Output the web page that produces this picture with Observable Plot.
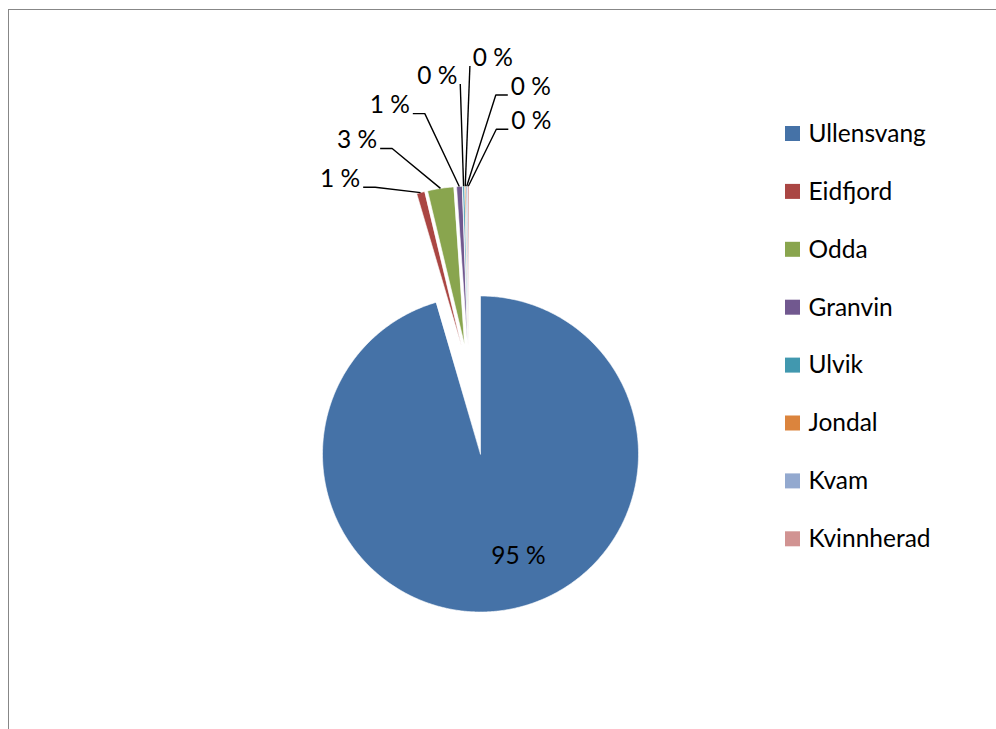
<!DOCTYPE html>
<html>
<head>
<meta charset="utf-8">
<script src="https://cdn.jsdelivr.net/npm/d3@7"></script>
<script src="https://cdn.jsdelivr.net/npm/@observablehq/plot@0.6"></script>
<style>
  html, body { margin: 0; padding: 0; background: #fff; overflow: hidden; }
  #wrap { position: relative; width: 996px; height: 729px; overflow: hidden; }
  #frame { position: absolute; left: 8px; top: 9px; width: 1010px; height: 740px;
           border: 1.5px solid #878787; box-sizing: border-box; pointer-events: none; }
</style>
</head>
<body>
<div id="wrap"><div id="chart"></div><div id="frame"></div></div>
<script>
// ---- data ----
const municipalities = ["Ullensvang", "Eidfjord", "Odda", "Granvin", "Ulvik", "Jondal", "Kvam", "Kvinnherad"];
const shares = [95.45, 0.8, 2.65, 0.55, 0.18, 0.1, 0.15, 0.12];   // percent
const palette = ["#4572A7", "#AA4643", "#89A54E", "#71588F", "#4198AF", "#DB843D", "#93A9CF", "#D19392"];

// ---- layout ----
const W = 996, H = 729;
const CX = 480, CY = 453.5, R = 158;
const GROUP_EXPLODE = 0.51, SLICE_EXPLODE = 0.19, LABEL_ORIGIN = 0.70;
const FONT = "Lato, 'Open Sans', 'DejaVu Sans', sans-serif";
const FS = 24.5;

const rows = municipalities.map((name, i) => ({name, share: shares[i], label: Math.round(shares[i]) + " %"}));
const arcs = d3.pie().sort(null).value(d => d.share)(rows);

const polar = (c, a, r) => [c[0] + r * Math.sin(a), c[1] - r * Math.cos(a)];
const mid = a => (a.startAngle + a.endAngle) / 2;
const groupMid = (arcs[1].startAngle + 2 * Math.PI) / 2;
const groupApex = polar([CX, CY], groupMid, GROUP_EXPLODE * R);
const apexOf = (a, i) => i === 0 ? [CX, CY] : polar(groupApex, mid(a), SLICE_EXPLODE * R);

// slice outlines
const slicePts = [];
arcs.forEach((a, i) => {
  const c = apexOf(a, i);
  const name = a.data.name;
  slicePts.push({name, x: c[0], y: c[1]});
  const n = Math.max(2, Math.ceil((a.endAngle - a.startAngle) / (Math.PI / 360)));
  for (let k = 0; k <= n; k++) {
    const t = a.startAngle + (a.endAngle - a.startAngle) * k / n;
    const [x, y] = polar(c, t, R);
    slicePts.push({name, x, y});
  }
});

// label fan for the exploded small slices
const origin = polar([CX, CY], groupMid, LABEL_ORIGIN * R);
const deg = Math.PI / 180;
const labelRows = [];
const leaderPts = [];
arcs.forEach((a, i) => {
  if (i === 0) return;
  const t = (i - 1) / (arcs.length - 2);
  const s = t + 1.3 * t * t * t * (1 - t);
  const th = (-37 + 53.6 * s) * deg;
  const r = s <= 0.797 ? 207 + 81 * Math.pow(s / 0.797, 0.8)
                       : 288 - 55 * Math.pow((s - 0.797) / 0.203, 4);
  const [lx, ly] = polar(origin, th, r);
  labelRows.push({name: a.data.name, x: lx, y: ly, text: a.data.label});
  const [px, py] = polar(apexOf(a, i), mid(a), R);
  const side = lx < px ? 1 : -1;
  const sx = lx + side * 23, sy = ly + 8;
  leaderPts.push({name: a.data.name, x: sx, y: sy});
  if (Math.abs(lx - px) > 45) leaderPts.push({name: a.data.name, x: sx + side * 12, y: sy});
  leaderPts.push({name: a.data.name, x: px, y: py});
});

// big slice label
const big = arcs[0];
const [bx, by] = polar([CX, CY], mid(big), 0.655 * R);
const bigLabel = [{x: bx, y: by, text: big.data.label}];

// legend
const LEG_X = 785, LEG_Y = 133.5, LEG_STEP = 57.9, SW = 15;
const legendRows = municipalities.map((name, i) => ({
  name, x1: LEG_X, x2: LEG_X + SW, y1: LEG_Y + i * LEG_STEP - SW / 2, y2: LEG_Y + i * LEG_STEP + SW / 2,
  tx: LEG_X + SW + 8, ty: LEG_Y + i * LEG_STEP
}));

const chart = Plot.plot({
  width: W, height: H,
  margin: 0,
  x: {domain: [0, W], range: [0, W], axis: null},
  y: {domain: [0, H], range: [0, H], axis: null},
  color: {domain: municipalities, range: palette},
  style: {fontFamily: FONT, background: "white"},
  marks: [
    Plot.line(slicePts, {x: "x", y: "y", z: "name", fill: "name", stroke: "white", strokeWidth: 0.6, curve: "linear-closed"}),
    Plot.line(leaderPts, {x: "x", y: "y", z: "name", stroke: "black", strokeWidth: 1.4, strokeLinejoin: "miter", strokeLinecap: "butt"}),
    Plot.text(labelRows, {x: "x", y: "y", text: "text", fontSize: FS, fill: "black", textAnchor: "middle", lineAnchor: "middle"}),
    Plot.text(bigLabel, {x: "x", y: "y", text: "text", fontSize: FS, fill: "black", textAnchor: "start", lineAnchor: "middle", dx: -4}),
    Plot.rect(legendRows, {x1: "x1", x2: "x2", y1: "y1", y2: "y2", fill: "name"}),
    Plot.text(legendRows, {x: "tx", y: "ty", text: "name", fontSize: FS, fill: "black", textAnchor: "start", lineAnchor: "middle"})
  ]
});
document.getElementById("chart").appendChild(chart);
</script>
</body>
</html>
